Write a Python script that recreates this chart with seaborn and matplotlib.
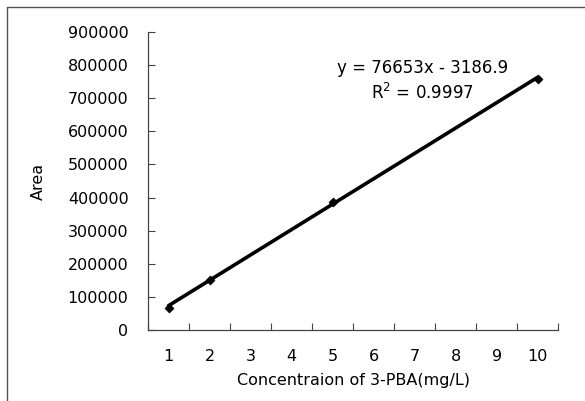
import numpy as np
import pandas as pd
import matplotlib
matplotlib.use("Agg")
import matplotlib.pyplot as plt
import seaborn as sns
from matplotlib.ticker import FixedLocator

# DATA
conc = [1, 2, 5, 10]
area = [68000, 150000, 387000, 758000]
slope = 76653
intercept = -3186.9
r2 = 0.9997
x_ticks = list(range(1, 11))
y_ticks = list(range(0, 900001, 100000))

df = pd.DataFrame({"conc": conc, "area": area})
fit = pd.DataFrame({"conc": [min(conc), max(conc)]})
fit["area"] = slope * fit["conc"] + intercept

sns.set_style("white")
plt.rcParams["font.family"] = ["DejaVu Sans"]
plt.rcParams["text.color"] = "black"
plt.rcParams["axes.labelcolor"] = "black"
plt.rcParams["xtick.color"] = "black"
plt.rcParams["ytick.color"] = "black"

fig = plt.figure(figsize=(5.85, 4.01), dpi=100)
ax = fig.add_axes([0.253, 0.177, 0.701, 0.743])

sns.lineplot(data=fit, x="conc", y="area", color="black", linewidth=2.6, ax=ax)
sns.scatterplot(data=df, x="conc", y="area", marker="D", s=22,
                color="black", edgecolor="black", ax=ax, zorder=3)

ax.set_xlim(0.5, 10.5)
ax.set_ylim(0, 900000)
ax.xaxis.set_major_locator(FixedLocator(x_ticks))
ax.set_xticks(np.arange(0.5, 10.6, 1), minor=True)
ax.set_yticks(y_ticks)
ax.set_yticklabels([str(v) for v in y_ticks])

ax.tick_params(axis="x", which="major", length=0, pad=14, labelsize=11.5)
ax.tick_params(axis="x", which="minor", direction="in", length=5,
               width=0.8, color="#444444", bottom=True)
ax.tick_params(axis="y", which="major", direction="in", length=5,
               width=0.8, color="#444444", pad=14, labelsize=11.5, left=True)

for s in ["top", "right"]:
    ax.spines[s].set_visible(False)
for s in ["left", "bottom"]:
    ax.spines[s].set_color("#444444")
    ax.spines[s].set_linewidth(0.9)

ax.set_xlabel("Concentraion of 3-PBA(mg/L)", fontsize=11.5, labelpad=6)
ax.set_ylabel("Area", fontsize=11.5, labelpad=16)

ax.text(7.2, 792000, f"y = {slope}x - {abs(intercept)}", ha="center",
        va="center", fontsize=12)
ax.text(7.2, 715000, f"R$^2$ = {r2}", ha="center", va="center", fontsize=12)

# outer chart frame (only top and left edges visible in crop)
fig.add_artist(plt.Line2D([7 / 585, 1.0], [1 - 7 / 401, 1 - 7 / 401],
                          transform=fig.transFigure, color="#555555", lw=1))
fig.add_artist(plt.Line2D([7 / 585, 7 / 585], [0.0, 1 - 7 / 401],
                          transform=fig.transFigure, color="#555555", lw=1))

fig.savefig("out.png", dpi=100)
